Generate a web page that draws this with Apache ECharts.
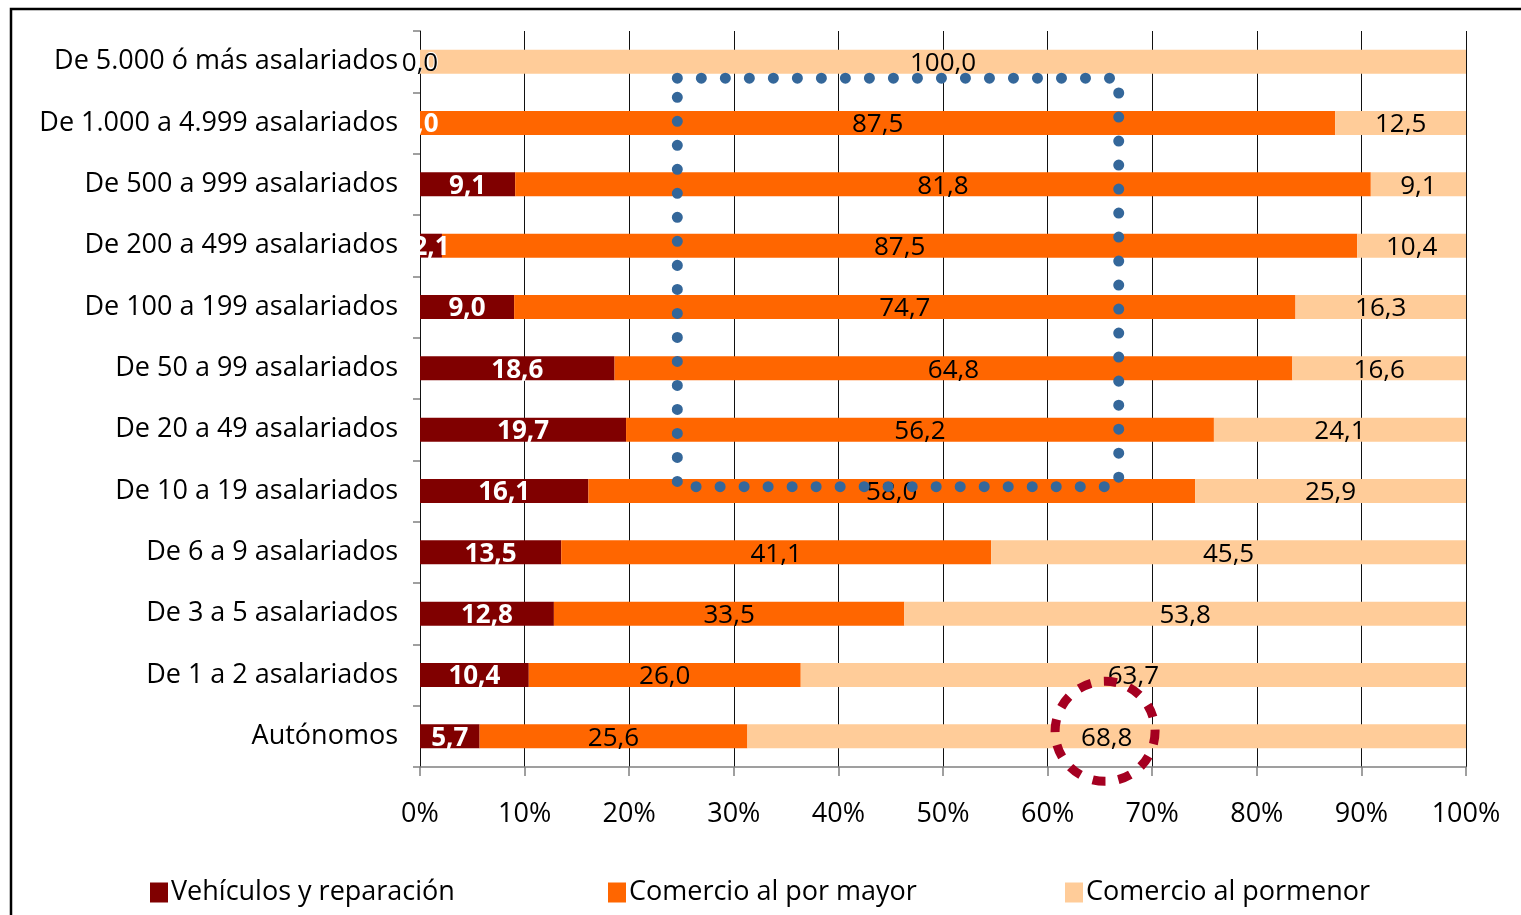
<!DOCTYPE html>
<html>
<head>
<meta charset="utf-8">
<script src="https://cdn.jsdelivr.net/npm/echarts@6/dist/echarts.min.js"></script>
<style>
html,body{margin:0;padding:0;background:#fff;}
#main{width:1521px;height:915px;}
</style>
</head>
<body>
<div id="main"></div>
<script>
const categories = [
  'De 5.000 ó más asalariados',
  'De 1.000 a 4.999 asalariados',
  'De 500 a 999 asalariados',
  'De 200 a 499 asalariados',
  'De 100 a 199 asalariados',
  'De 50 a 99 asalariados',
  'De 20 a 49 asalariados',
  'De 10 a 19 asalariados',
  'De 6 a 9 asalariados',
  'De 3 a 5 asalariados',
  'De 1 a 2 asalariados',
  'Autónomos'
];
const vehiculos = [0.0, 0.0, 9.1, 2.1, 9.0, 18.6, 19.7, 16.1, 13.5, 12.8, 10.4, 5.7];
const porMayor  = [0.0, 87.5, 81.8, 87.5, 74.7, 64.8, 56.2, 58.0, 41.1, 33.5, 26.0, 25.6];
const porMenor  = [100.0, 12.5, 9.1, 10.4, 16.3, 16.6, 24.1, 25.9, 45.5, 53.8, 63.7, 68.8];
const seriesNames = ['Vehículos y reparación', 'Comercio al por mayor', 'Comercio al pormenor'];
const xTicks = [0, 10, 20, 30, 40, 50, 60, 70, 80, 90, 100];

const FONT = "'Open Sans', 'Noto Sans', sans-serif";
const fmt = v => v.toFixed(1).replace('.', ',');

const chart = echarts.init(document.getElementById('main'));

function mkSeries(name, data, color, labelColor, bold) {
  return {
    name: name,
    type: 'bar',
    stack: 'total',
    data: data,
    barWidth: '39%',
    itemStyle: { color: color },
    label: {
      show: true,
      position: 'inside',
      color: labelColor,
      fontFamily: FONT,
      fontSize: 26,
      fontWeight: bold ? 'bold' : 'normal',
      offset: [0, 2],
      formatter: p => fmt(p.value)
    }
  };
}

const legendBase = {
  bottom: 4,
  itemWidth: 18,
  itemHeight: 20,
  itemGap: 0,
  icon: 'rect',
  textStyle: { fontFamily: FONT, fontSize: 27, color: '#000', padding: [0,0,0,-2] },
  selectedMode: false
};

chart.setOption({
  animation: false,
  backgroundColor: '#fff',
  grid: { left: 420, right: 55, top: 31, bottom: 148 },
  legend: [
    Object.assign({}, legendBase, { left: 145, data: [seriesNames[0]] }),
    Object.assign({}, legendBase, { left: 603, data: [seriesNames[1]] }),
    Object.assign({}, legendBase, { left: 1060, data: [seriesNames[2]] })
  ],
  xAxis: {
    type: 'value',
    min: 0,
    max: 100,
    interval: 10,
    axisLine: { show: true, lineStyle: { color: '#808080', width: 1.5 } },
    axisTick: { show: true, length: 9, lineStyle: { color: '#808080', width: 1.5 } },
    splitLine: { show: true, lineStyle: { color: '#111', width: 1 } },
    axisLabel: {
      margin: 34,
      fontFamily: FONT,
      fontSize: 27,
      color: '#000',
      formatter: v => xTicks.indexOf(v) >= 0 ? v + '%' : ''
    }
  },
  yAxis: {
    type: 'category',
    inverse: true,
    data: categories,
    axisLine: { show: true, lineStyle: { color: '#111', width: 1 } },
    axisTick: { show: true, length: 7, lineStyle: { color: '#808080', width: 1.5 } },
    axisLabel: { margin: 22, fontFamily: FONT, fontSize: 27, color: '#000', padding: [8, 0, 0, 0] }
  },
  series: [
    mkSeries(seriesNames[0], vehiculos, '#800000', '#fff', true),
    mkSeries(seriesNames[1], porMayor, '#FF6600', '#000', false),
    mkSeries(seriesNames[2], porMenor, '#FFCC99', '#000', false)
  ]
});

// annotations positioned in data space
const px = (x, cat) => chart.convertToPixel({ gridIndex: 0 }, [x, cat]);
const band = px(0, categories[1])[1] - px(0, categories[0])[1];
const rectLeft = 24.6, rectRight = 66.8;
const yTop = px(0, categories[0])[1] + 0.27 * band;
const yBot = px(0, categories[7])[1] - 0.07 * band;
const xL = px(rectLeft, categories[0])[0];
const xR = px(rectRight, categories[0])[0];
const circC = px(65.4, categories[11]);

chart.setOption({
  graphic: [
    {
      type: 'rect',
      silent: true,
      shape: { x: 11, y: 9, width: 1600, height: 1000 },
      style: { fill: 'none', stroke: '#000', lineWidth: 2.5 },
      z: 100
    },
    {
      type: 'polygon',
      silent: true,
      shape: { points: [[xL, yTop], [xR, yTop], [xR, yBot], [xL, yBot]] },
      style: { fill: 'none', stroke: '#34679A', lineWidth: 11, lineDash: [0.01, 24], lineCap: 'round' },
      z: 100
    },
    {
      type: 'circle',
      silent: true,
      shape: { cx: circC[0] + 1, cy: circC[1] - 5, r: 50 },
      style: { fill: 'none', stroke: '#A50021', lineWidth: 9, lineDash: [13, 13] },
      z: 100
    }
  ]
});
</script>
</body>
</html>
